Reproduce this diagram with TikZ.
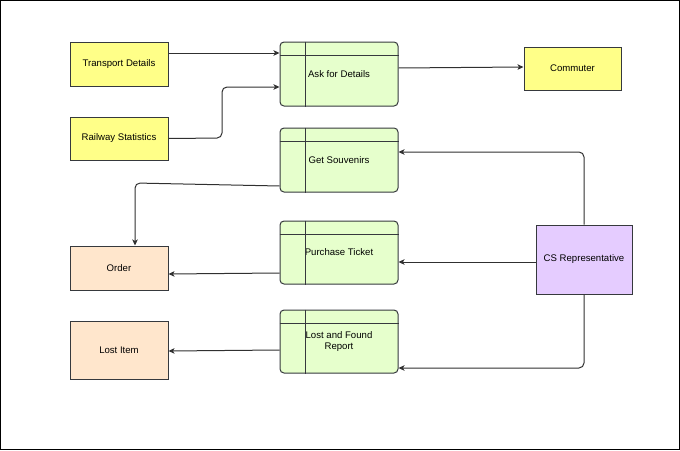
\documentclass[tikz,border=0pt]{standalone}
\usepackage{fontspec}
\setmainfont{Liberation Sans}
\usetikzlibrary{arrows.meta}
\definecolor{ylw}{HTML}{FFFF88}
\definecolor{peach}{HTML}{FFE6CC}
\definecolor{grn}{HTML}{E6FFCC}
\definecolor{lil}{HTML}{E5CCFF}
\definecolor{edge}{HTML}{36393D}
\definecolor{wire}{HTML}{303030}
\tikzset{
  ent/.style={draw=edge, line width=1pt, minimum width=98pt, inner sep=0pt, font=\fontsize{9.6}{11.5}\selectfont, align=center},
  yent/.style={ent, fill=ylw, minimum height=44pt},
  pent/.style={ent, fill=peach},
  proc/.style={draw=edge, line width=1pt, fill=grn, rounded corners=4pt, minimum width=118pt, minimum height=64pt, inner sep=0pt, font=\fontsize{9.6}{11.5}\selectfont, align=center},
  flow/.style={draw=wire, line width=1pt, rounded corners=5pt, -{Stealth[length=6pt,width=5.5pt,inset=1.5pt]}}
}
\begin{document}
\begin{tikzpicture}[x=1pt,y=-1pt]
\useasboundingbox (0,0) rectangle (680,450);
\draw[line width=1.2pt] (0.6,0.6) rectangle (679.4,449.4);

% entities
\node[yent] (td) at (119,64) {Transport Details};
\node[yent, minimum height=43pt] (rs) at (119,138.5) {Railway Statistics};
\node[yent, minimum width=97pt, minimum height=43pt] (cm) at (572.5,68.5) {Commuter};
\node[pent, minimum height=44pt] (or) at (119,268) {Order};
\node[pent, minimum height=58pt] (li) at (119,350) {Lost Item};
\node[ent, fill=lil, minimum width=96pt, minimum height=69pt] (cs) at (584,259.5) {CS Representative};

% processes
\node[proc] (ask) at (339,74) {Ask for Details};
\node[proc] (gs) at (339,160) {Get Souvenirs};
\node[proc, minimum height=63pt] (pt) at (339,252.5) {Purchase Ticket};
\node[proc, minimum height=63pt] (lf) at (339,341.5) {Lost and Found\\Report};
\foreach \n in {ask,gs,pt,lf}{
  \draw[edge, line width=1pt] ([yshift=-14pt]\n.north west) -- ([yshift=-14pt]\n.north east);
  \draw[edge, line width=1pt] ([xshift=26pt]\n.north west) -- ([xshift=26pt]\n.south west);
}

% flows
\draw[flow] (td.east |- 0,53) -- (ask.west |- 0,53);
\draw[flow] (rs.east) -- (222,138) -- (222,87) -- (ask.west |- 0,87);
\draw[flow] (ask.east |- 0,68) -- (cm.west |- 0,67);
\draw[flow] (gs.west |- 0,186) -- (135,183) -- (or.north -| 135,0);
\draw[flow] (pt.west |- 0,273) -- (or.east |- 0,274);
\draw[flow] (lf.west |- 0,350) -- (li.east |- 0,351);
\draw[flow] (cs.north) -- (584,152) -- (gs.east |- 0,152);
\draw[flow] (cs.west |- 0,262) -- (pt.east |- 0,262);
\draw[flow] (cs.south) -- (584,368) -- (lf.east |- 0,368);
\end{tikzpicture}
\end{document}
